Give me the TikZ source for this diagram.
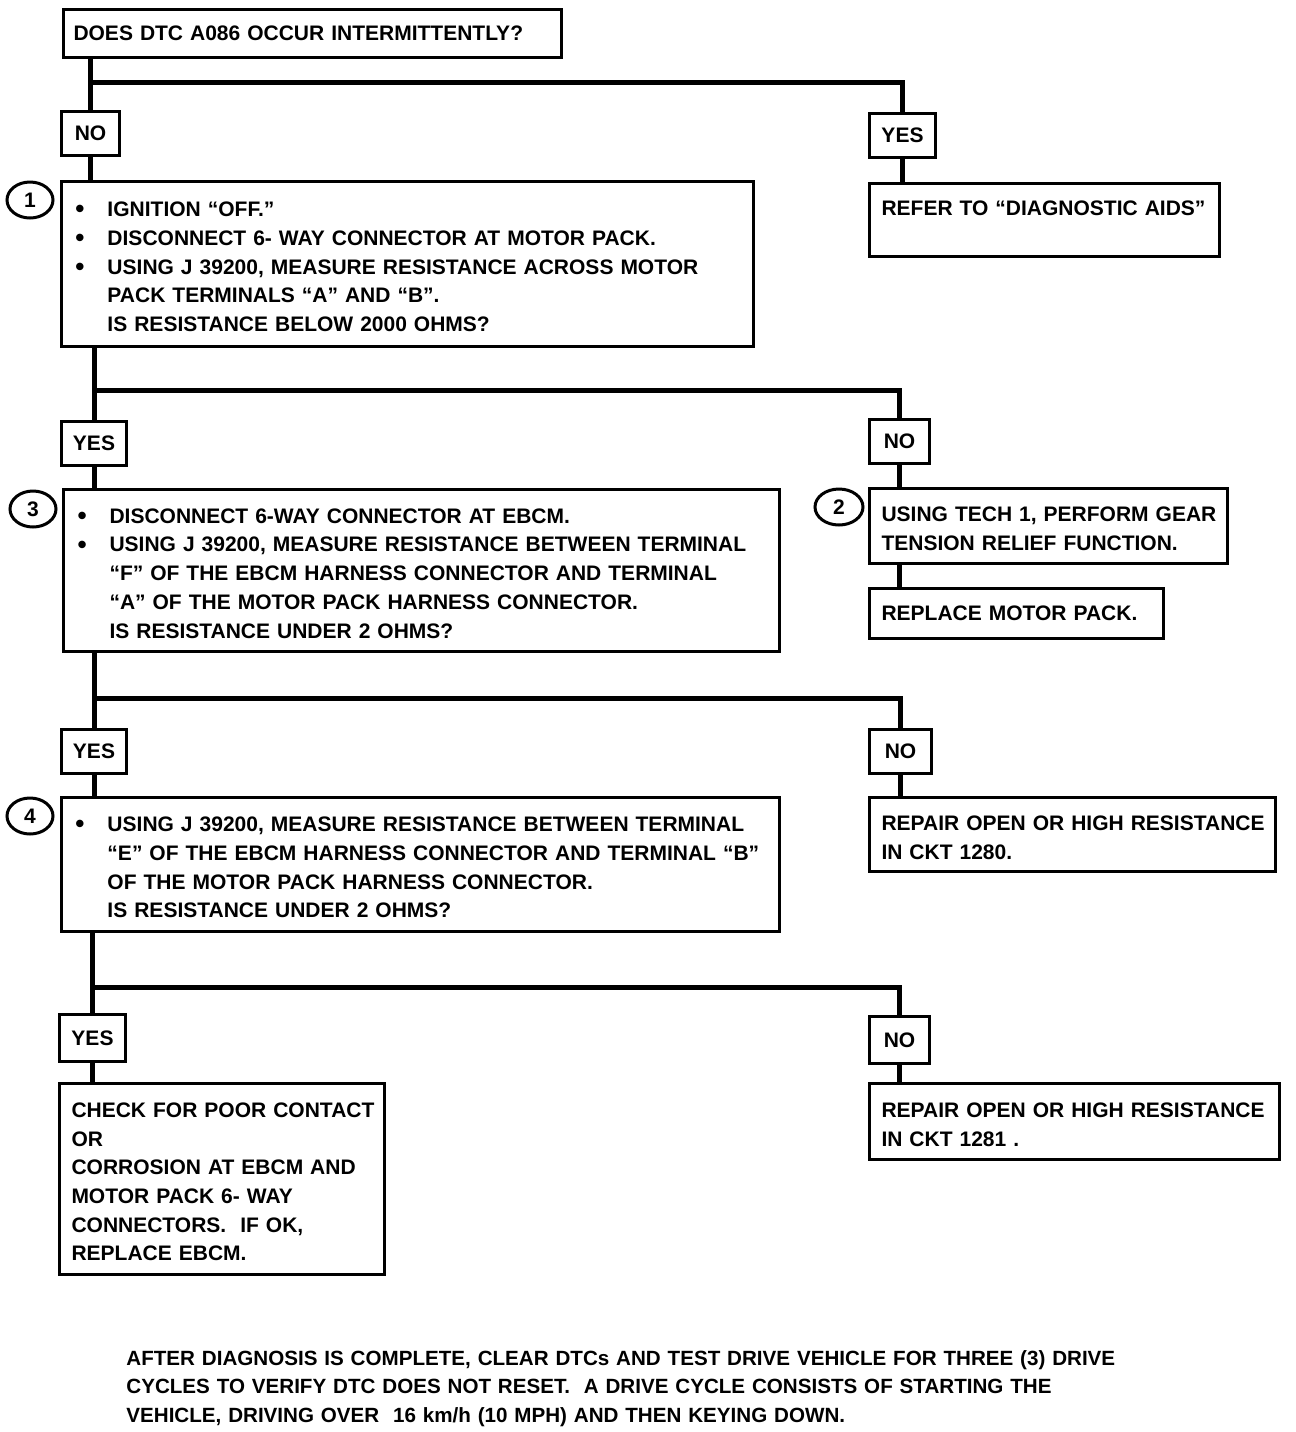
\documentclass[tikz,border=0pt]{standalone}
\usepackage{fontspec}
\setmainfont{Liberation Sans}
\usetikzlibrary{shapes.geometric}

\newcommand\chartfont{\fontsize{10.5pt}{14.35pt}\selectfont\bfseries}
\newcommand\notefont{\fontsize{10.3pt}{14.35pt}\selectfont\bfseries}
\newcommand\bul{\makebox[16pt][l]{\raisebox{-0.6pt}{\fontsize{13pt}{13pt}\selectfont\textbullet}}}
\newcommand\ind{\makebox[16pt][l]{}}
\newcommand\rows[1]{\raisebox{-2.2pt}[\height][\depth]{\begin{tabular}[t]{@{}l@{}}#1\end{tabular}}}

\tikzset{
	stepbox/.style={draw, line width=1.5pt, anchor=north west, inner xsep=7pt, inner ysep=0pt, align=left, font=\chartfont},
	answer/.style={draw, line width=1.5pt, anchor=north west, minimum height=22pt, inner sep=0pt, font=\chartfont},
	stepnum/.style={ellipse, draw, line width=1.5pt, minimum width=23pt, minimum height=18pt, inner sep=0pt, font=\chartfont},
	link/.style={line width=2.5pt}
}

\begin{document}
\begin{tikzpicture}[x=0.5pt, y=-0.5pt]
\path[fill=white, use as bounding box] (0,0) rectangle (1296,1432);

% question
\node[stepbox, inner xsep=5pt, text width=239pt, minimum height=24pt] (q0) at (62,8) {DOES DTC A086 OCCUR INTERMITTENTLY?};

% first answer
\node[answer, minimum width=29pt] (no1) at (60,110) {NO};
\node[answer, minimum width=33pt] (yes1) at (868,112) {YES};
\node[stepnum] (n1) at (30,200) {1};
\node[stepbox, text width=332pt, minimum height=82.5pt] (s1) at (60,180) {\rows{\bul IGNITION “OFF.”\\
	\bul DISCONNECT 6- WAY CONNECTOR AT MOTOR PACK.\\
	\bul USING J 39200, MEASURE RESISTANCE ACROSS MOTOR\\
	\ind PACK TERMINALS “A” AND “B”.\\
	\ind IS RESISTANCE BELOW 2000 OHMS?}};
\node[stepbox, inner xsep=6pt, text width=163pt, minimum height=36.5pt] (refer) at (868,182) {\rows{REFER TO “DIAGNOSTIC AIDS”\\ \mbox{}}};

% second answer
\node[answer, minimum width=32.5pt] (yes2) at (60,420) {YES};
\node[answer, minimum width=30pt] (no2) at (868,418) {NO};
\node[stepnum] (n3) at (33,509) {3};
\node[stepbox, text width=344pt, minimum height=81pt] (s3) at (62,488) {\rows{\bul DISCONNECT 6-WAY CONNECTOR AT EBCM.\\
	\bul USING J 39200, MEASURE RESISTANCE BETWEEN TERMINAL\\
	\ind “F” OF THE EBCM HARNESS CONNECTOR AND TERMINAL\\
	\ind “A” OF THE MOTOR PACK HARNESS CONNECTOR.\\
	\ind IS RESISTANCE UNDER 2 OHMS?}};
\node[stepnum, minimum width=24pt] (n2) at (839,507) {2};
\node[stepbox, inner xsep=6pt, text width=167pt, minimum height=37.5pt] (s2) at (868,487) {\rows{USING TECH 1, PERFORM GEAR\\
	TENSION RELIEF FUNCTION.}};
\node[stepbox, inner xsep=6pt, text width=135pt, minimum height=25pt] (replace) at (868,587) {REPLACE MOTOR PACK.};

% third answer
\node[answer, minimum width=32.5pt] (yes3) at (60,728) {YES};
\node[answer, minimum width=31pt] (no3) at (868,728) {NO};
\node[stepnum] (n4) at (30,816) {4};
\node[stepbox, text width=345pt, minimum height=67pt] (s4) at (60,796) {\rows{\bul USING J 39200, MEASURE RESISTANCE BETWEEN TERMINAL\\
	\ind “E” OF THE EBCM HARNESS CONNECTOR AND TERMINAL “B”\\
	\ind OF THE MOTOR PACK HARNESS CONNECTOR.\\
	\ind IS RESISTANCE UNDER 2 OHMS?}};
\node[stepbox, inner xsep=6pt, text width=191pt, minimum height=37pt] (r1280) at (868,796) {\rows{REPAIR OPEN OR HIGH RESISTANCE\\
	IN CKT 1280.}};

% fourth answer
\node[answer, minimum width=33pt, minimum height=23.5pt] (yes4) at (58,1013) {YES};
\node[answer, minimum width=30pt, minimum height=23.5pt] (no4) at (868,1015) {NO};
\node[stepbox, inner xsep=6pt, text width=150.5pt, minimum height=95.5pt] (check) at (58,1082) {\rows{CHECK FOR POOR CONTACT\\
	OR\\
	CORROSION AT EBCM AND\\
	MOTOR PACK 6- WAY\\
	CONNECTORS.\ \ IF OK,\\
	REPLACE EBCM.}};
\node[stepbox, inner xsep=6pt, text width=193pt, minimum height=38pt] (r1281) at (868,1082) {\rows{REPAIR OPEN OR HIGH RESISTANCE\\
	IN CKT 1281 .}};

% note
\node[font=\notefont, anchor=base west, inner sep=0pt, text width=560pt, align=left] (note) at (126,1365) {AFTER DIAGNOSIS IS COMPLETE, CLEAR DTCs AND TEST DRIVE VEHICLE FOR THREE (3) DRIVE\\
	CYCLES TO VERIFY DTC DOES NOT RESET.\ \ A DRIVE CYCLE CONSISTS OF STARTING THE\\
	VEHICLE, DRIVING OVER\ \ 16 km/h (10 MPH) AND THEN KEYING DOWN.};

% connectors
\coordinate (j1) at (0,82);
\coordinate (j2) at (0,390);
\coordinate (j3) at (0,698);
\coordinate (j4) at (0,987);
\draw[link] (q0.south -| no1.north) -- (no1.north);
\draw[link] (no1.north |- j1) -| (yes1.north);
\draw[link] (no1.south) -- (no1.south |- s1.north);
\draw[link] (yes1.south) -- (yes1.south |- refer.north);

\draw[link] (s1.south -| yes2.north) -- (yes2.north);
\draw[link] (yes2.north |- j2) -| (no2.north);
\draw[link] (yes2.south) -- (yes2.south |- s3.north);
\draw[link] (no2.south) -- (no2.south |- s2.north);
\draw[link] (s2.south -| no2.south) -- (replace.north -| no2.south);

\draw[link] (s3.south -| yes3.north) -- (yes3.north);
\draw[link] (yes3.north |- j3) -| (no3.north);
\draw[link] (yes3.south) -- (yes3.south |- s4.north);
\draw[link] (no3.south) -- (no3.south |- r1280.north);

\draw[link] (s4.south -| yes4.north) -- (yes4.north);
\draw[link] (yes4.north |- j4) -| (no4.north);
\draw[link] (yes4.south) -- (yes4.south |- check.north);
\draw[link] (no4.south) -- (no4.south |- r1281.north);

\end{tikzpicture}
\end{document}
